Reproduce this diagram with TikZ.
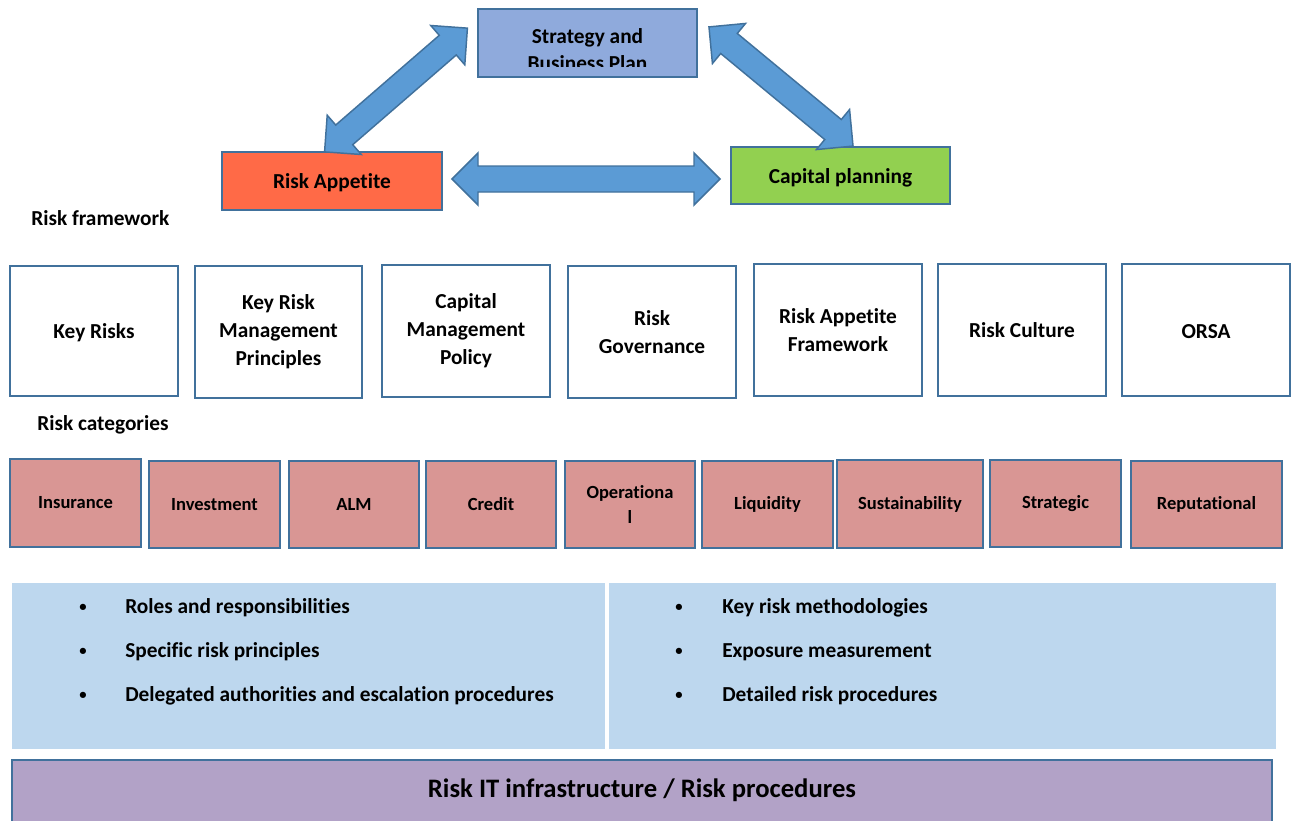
\documentclass[tikz,border=0pt]{standalone}
\usepackage{fontspec}
\setmainfont{Carlito}[Ligatures=NoCommon]
\newcommand{\dnshift}[1]{\raisebox{-1.5pt}[\height][\depth]{#1}}
\definecolor{bordc}{HTML}{41719C}
\definecolor{stratc}{HTML}{8FAADC}
\definecolor{rac}{HTML}{FF6A47}
\definecolor{capc}{HTML}{92D050}
\definecolor{arrc}{HTML}{5B9BD5}
\definecolor{catc}{HTML}{D99694}
\definecolor{panc}{HTML}{BDD7EE}
\definecolor{purc}{HTML}{B2A2C7}
\tikzset{
  pxbox/.style 2 args={minimum width=#1*0.75pt, minimum height=#2*0.75pt, inner sep=0pt, outer sep=0pt},
  topbox/.style={draw=bordc, line width=1.6pt, font=\fontsize{16}{20}\selectfont\bfseries, align=center},
  fwbox/.style={draw=bordc, line width=1.6pt, fill=white, font=\fontsize{16}{21}\selectfont\bfseries, align=center},
  catbox/.style={draw=bordc, line width=1.9pt, fill=catc, font=\fontsize{13.9}{18.75}\selectfont\bfseries, align=center},
  lbl/.style={anchor=west, inner sep=0pt, font=\fontsize{16}{20}\selectfont\bfseries},
  bul/.style={anchor=west, inner sep=0pt, font=\fontsize{16}{20}\selectfont\bfseries},
  bdot/.style={inner sep=0pt, font=\fontsize{11}{12}\selectfont\bfseries},
  blockarrow/.style={fill=arrc, draw=bordc, line width=1.1pt, line join=miter},
  pics/dblarrow/.style={code={
    \draw[blockarrow] ({-#1/2},0) -- ({-#1/2+26},26) -- ({-#1/2+26},13) -- ({#1/2-26},13)
      -- ({#1/2-26},26) -- ({#1/2},0) -- ({#1/2-26},-26) -- ({#1/2-26},-13)
      -- ({-#1/2+26},-13) -- ({-#1/2+26},-26) -- cycle;
  }}
}
\begin{document}
\begin{tikzpicture}[x=0.75pt, y=-0.75pt]
\useasboundingbox (0,0) rectangle (1296,821);
\clip (0,0) rectangle (1296,821);

% top triangle
\node[topbox, fill=stratc, pxbox={219}{68}] (strat) at (587.5,43) {};
\begin{scope}
  \clip (478,9) rectangle (697,66);
  \node[inner sep=0pt, font=\fontsize{16}{20.25}\selectfont\bfseries, align=center] (strattxt) at (587.5,49.5) {Strategy and\\Business Plan};
\end{scope}
\node[topbox, fill=rac, pxbox={220}{58}] (ra) at (332,181) {\dnshift{Risk Appetite}};
\node[topbox, fill=capc, pxbox={219}{57}] (cap) at (840.5,175.5) {\dnshift{Capital planning}};

\pic[rotate=40.9] at (396,90) {dblarrow=189};
\pic[rotate=-39.6] at (781,86.5) {dblarrow=187};
\pic at (586,179) {dblarrow=268};

% risk framework
\node[lbl] (rfl) at (31,218) {Risk framework};
\node[fwbox, pxbox={168}{130}] (f1) at (94,331) {\dnshift{Key Risks}};
\node[fwbox, pxbox={167}{132}] (f2) at (278.5,332) {Key Risk\\Management\\Principles};
\node[fwbox, pxbox={168}{132}] (f3) at (466,331) {Capital\\Management\\Policy};
\node[fwbox, pxbox={168}{132}] (f4) at (652,332) {Risk\\Governance};
\node[fwbox, pxbox={168}{132}] (f5) at (838,330) {Risk Appetite\\Framework};
\node[fwbox, pxbox={168}{132}] (f6) at (1022,330) {Risk Culture};
\node[fwbox, pxbox={168}{132}] (f7) at (1206,330) {\dnshift{ORSA}};

% risk categories
\node[lbl] (rcl) at (37,425) {Risk categories};
\node[catbox, pxbox={131}{88}] (c1) at (75.5,503) {Insurance};
\node[catbox, pxbox={131}{87}] (c2) at (214.5,504.5) {Investment};
\node[catbox, pxbox={130}{87}] (c3) at (354,504.5) {ALM};
\node[catbox, pxbox={130}{87}] (c4) at (491,504.5) {Credit};
\node[catbox, pxbox={130}{87}] (c5) at (630,504.5) {Operationa\\l};
\node[catbox, pxbox={131}{87}] (c6) at (767.5,504.5) {Liquidity};
\node[catbox, pxbox={146}{88}] (c7) at (910,504) {Sustainability};
\node[catbox, pxbox={131}{87}] (c8) at (1055.5,503.5) {Strategic};
\node[catbox, pxbox={151}{87}] (c9) at (1206.5,504.5) {Reputational};

% panels
\fill[panc] (12,583) rectangle (605,749);
\fill[panc] (609,583) rectangle (1276,749);
\foreach \y/\t [count=\i] in {608/Roles and responsibilities, 652/Specific risk principles, 696/Delegated authorities and escalation procedures}{
  \node[bdot] (lb\i) at (83,\y) {\textbullet};
  \node[bul] (lt\i) at (125,\y) {\t};
}
\foreach \y/\t [count=\i] in {608/Key risk methodologies, 652/Exposure measurement, 696/Detailed risk procedures}{
  \node[bdot] (rb\i) at (679,\y) {\textbullet};
  \node[bul] (rt\i) at (722,\y) {\t};
}

% bottom bar
\draw[fill=purc, draw=bordc, line width=1.6pt] (12,760) rectangle (1272,840);
\node[font=\fontsize{20}{24}\selectfont\bfseries, inner sep=0pt] (itl) at (642,790) {Risk IT infrastructure / Risk procedures};
\end{tikzpicture}
\end{document}
